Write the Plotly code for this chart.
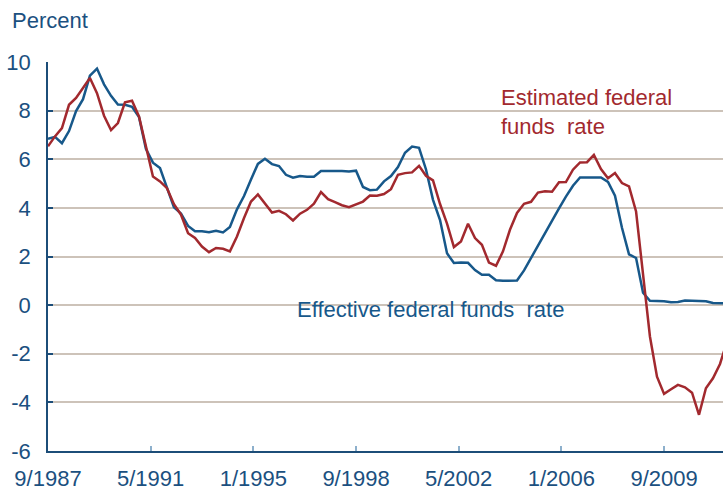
import pandas as pd
import plotly.graph_objects as go

# quarterly values, starting 9/1987
effective = [6.84, 6.92, 6.66, 7.16, 7.98, 8.47, 9.44, 9.73, 9.08, 8.61,
             8.25, 8.24, 8.16, 7.74, 6.43, 5.86, 5.64, 4.82, 4.02, 3.77,
             3.26, 3.04, 3.04, 3.00, 3.06, 2.99, 3.21, 3.94, 4.49, 5.17,
             5.81, 6.02, 5.80, 5.72, 5.36, 5.24, 5.31, 5.28, 5.28, 5.52,
             5.53, 5.51, 5.52, 5.50, 5.53, 4.86, 4.73, 4.75, 5.09, 5.31,
             5.68, 6.27, 6.52, 6.47, 5.59, 4.33, 3.50, 2.13, 1.73, 1.75,
             1.74, 1.44, 1.25, 1.25, 1.02, 1.00, 1.00, 1.01, 1.43, 1.95,
             2.47, 2.94, 3.46, 3.98, 4.46, 4.91, 5.25, 5.25, 5.26, 5.25,
             5.07, 4.50, 3.18, 2.09, 1.94, 0.51, 0.18, 0.18, 0.16, 0.12,
             0.13, 0.19, 0.19, 0.19, 0.16, 0.09, 0.08, 0.07]

estimated = [6.53, 6.94, 7.28, 8.24, 8.52, 8.93, 9.34, 8.72, 7.79, 7.20,
             7.49, 8.34, 8.41, 7.76, 6.60, 5.29, 5.09, 4.81, 4.15, 3.72,
             2.96, 2.76, 2.41, 2.18, 2.35, 2.32, 2.21, 2.82, 3.58, 4.26,
             4.55, 4.20, 3.81, 3.88, 3.74, 3.48, 3.76, 3.92, 4.17, 4.65,
             4.36, 4.24, 4.11, 4.03, 4.13, 4.26, 4.51, 4.50, 4.57, 4.77,
             5.36, 5.43, 5.46, 5.73, 5.32, 5.13, 4.16, 3.35, 2.39, 2.62,
             3.35, 2.76, 2.48, 1.75, 1.62, 2.21, 3.10, 3.79, 4.17, 4.25,
             4.63, 4.68, 4.66, 5.05, 5.06, 5.57, 5.87, 5.88, 6.18, 5.60,
             5.22, 5.43, 5.02, 4.88, 3.85, 1.32, -1.29, -2.94, -3.65, -3.46,
             -3.28, -3.38, -3.60, -4.51, -3.42, -3.01, -2.42, -1.50]

dates = pd.date_range("1987-09-01", periods=len(effective), freq="3MS")

tick_dates = ["1987-09-01", "1991-05-01", "1995-01-01", "1998-09-01",
              "2002-05-01", "2006-01-01", "2009-09-01"]
tick_labels = ["9/1987", "5/1991", "1/1995", "9/1998", "5/2002", "1/2006", "9/2009"]
y_ticks = [-6, -4, -2, 0, 2, 4, 6, 8, 10]
y_labels = ["-6", "-4", "-2", "0", "2", "4", "6", "8", "10"]

blue = "#17588a"
red = "#a2292e"
txt = "#1b5080"
grid = "#cdc3b9"
font = "Liberation Sans, Arial, sans-serif"

fig = go.Figure()
fig.add_trace(go.Scatter(x=dates, y=effective, mode="lines",
                         line=dict(color=blue, width=2.5), name="Effective"))
fig.add_trace(go.Scatter(x=dates, y=estimated, mode="lines",
                         line=dict(color=red, width=2.5), name="Estimated"))

fig.add_annotation(x="2003-10-15", y=7.95, xref="x", yref="y",
                   text="Estimated federal<br>funds  rate", showarrow=False,
                   xanchor="left", yanchor="middle", align="left",
                   font=dict(size=22, color=red, family=font))
fig.add_annotation(x="1996-07-01", y=-0.2, xref="x", yref="y",
                   text="Effective federal funds  rate", showarrow=False,
                   xanchor="left", yanchor="middle",
                   font=dict(size=22, color=blue, family=font))
fig.add_annotation(x=0, y=1, xref="paper", yref="paper", xshift=-38, yshift=42,
                   text="Percent", showarrow=False, xanchor="left", yanchor="middle",
                   font=dict(size=22, color=txt, family=font))

fig.update_xaxes(type="date", range=["1987-09-01", "2011-10-10"], automargin=False,
                 tickvals=tick_dates, ticktext=tick_labels,
                 showgrid=False, showline=True, linecolor="#1c4d78", linewidth=1.5,
                 ticks="inside", ticklen=5, tickcolor="#8db0cc", tickwidth=1.5,
                 ticklabelstandoff=7,
                 tickfont=dict(size=22, color=txt, family=font))
fig.update_yaxes(range=[-6, 10], tickvals=y_ticks, ticktext=y_labels, automargin=False,
                 showgrid=True, gridcolor=grid, gridwidth=2,
                 zeroline=False, showline=True, linecolor="#1c4d78", linewidth=1.5,
                 ticks="inside", ticklen=5, tickcolor="#1c4d78", tickwidth=1.5,
                 ticklabelstandoff=11,
                 tickfont=dict(size=22, color=txt, family=font))

fig.update_layout(width=723, height=486, showlegend=False,
                  margin=dict(l=48, r=0, t=62, b=35),
                  plot_bgcolor="white", paper_bgcolor="white")

# drop the default body margin so the figure fills the window exactly
fig.write_html("out.html", config={"displayModeBar": False},
               post_script="document.body.style.margin='0';document.body.style.overflow='hidden';")
